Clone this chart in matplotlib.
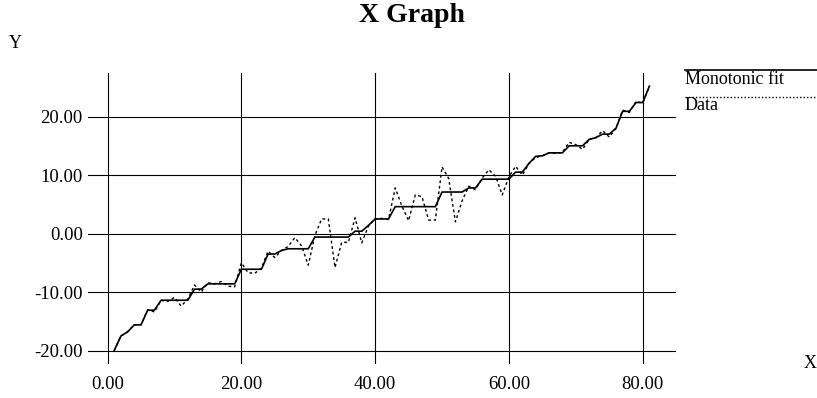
import matplotlib
matplotlib.use('Agg')
import numpy as np
from matplotlib import pyplot as plt
from matplotlib.lines import Line2D

# x positions 1..81
x_vals = list(range(1, 82))

data_vals = [-20.0, -17.5, -16.8, -15.6, -15.6, -13.0, -13.4, -11.4, -11.6, -10.9,
             -12.4, -11.2, -8.8, -10.0, -8.4, -8.6, -8.2, -9.0, -9.1, -5.0,
             -6.7, -6.8, -5.9, -3.0, -4.1, -2.9, -2.2, -0.7, -2.1, -5.4,
             -0.3, 2.5, 2.5, -5.8, -1.5, -1.5, 2.7, -1.6, 1.3, 2.5,
             2.6, 2.4, 7.8, 4.7, 2.2, 6.6, 6.3, 2.3, 2.3, 11.4,
             9.4, 2.0, 5.6, 8.1, 7.5, 9.5, 10.9, 9.8, 6.6, 9.7,
             11.5, 10.0, 12.0, 13.0, 13.3, 13.8, 13.7, 13.9, 15.6, 15.2,
             14.4, 16.1, 16.4, 17.6, 16.5, 18.0, 21.1, 20.7, 22.6, 22.3,
             25.2]

fit_vals = [-20.0, -17.5, -16.8, -15.6, -15.6, -13.1, -13.1, -11.4, -11.4, -11.4,
            -11.4, -11.4, -9.5, -9.5, -8.6, -8.6, -8.6, -8.6, -8.6, -6.1,
            -6.1, -6.1, -6.1, -3.5, -3.5, -2.9, -2.6, -2.6, -2.6, -2.6,
            -0.6, -0.6, -0.6, -0.6, -0.6, -0.6, 0.4, 0.4, 1.4, 2.5,
            2.5, 2.5, 4.6, 4.6, 4.6, 4.6, 4.6, 4.6, 4.6, 7.1,
            7.1, 7.1, 7.1, 7.8, 7.8, 9.3, 9.3, 9.3, 9.3, 9.3,
            10.5, 10.5, 12.0, 13.2, 13.3, 13.8, 13.8, 13.8, 15.0, 15.0,
            15.0, 16.1, 16.4, 17.0, 17.0, 18.0, 20.9, 20.9, 22.4, 22.4,
            25.2]

x_ticks = [0, 20, 40, 60, 80]
y_ticks = [-20, -10, 0, 10, 20]

W, H = 817, 398
plt.rcParams['font.family'] = ['Liberation Serif', 'DejaVu Serif']

fig = plt.figure(figsize=(W / 100, H / 100), dpi=100)

# axes box in pixels: left 87.5, right 675.5, top 72.7, bottom 364
left, right, top, bottom = 87.5, 675.5, 72.7, 364.0
ax = fig.add_axes([left / W, 1 - bottom / H, (right - left) / W, (bottom - top) / H])
ax.set_xlim(-3.0, 84.9)
ax.set_ylim(-22.3, 27.5)

for s in ax.spines.values():
    s.set_visible(False)

ax.set_xticks(x_ticks)
ax.set_yticks(y_ticks)
ax.set_xticklabels(['%.2f' % v for v in x_ticks])
ax.set_yticklabels(['%.2f' % v for v in y_ticks])
ax.tick_params(length=0, labelsize=13.5)
ax.tick_params(axis='x', pad=8.5)
ax.tick_params(axis='y', pad=3.5)
ax.grid(True, color='black', linewidth=0.8)
ax.set_axisbelow(True)

ax.plot(x_vals, data_vals, color='black', linewidth=1.0, linestyle=(0, (2, 2)))
ax.plot(x_vals, fit_vals, color='black', linewidth=1.2)

# title and axis names
fig.text(412 / W, 1 - 16 / H, 'X Graph', ha='center', va='center',
         fontsize=20, fontweight='bold')
fig.text(15 / W, 1 - 44 / H, 'Y', ha='center', va='center', fontsize=13)
fig.text(810 / W, 1 - 364 / H, 'X', ha='center', va='center', fontsize=13)

# legend at the right side
fig.add_artist(Line2D([685 / W, 1.0], [1 - 70 / H, 1 - 70 / H],
                      color='black', linewidth=1.2))
fig.text(685 / W, 1 - 79 / H, 'Monotonic fit', ha='left', va='center', fontsize=13)
fig.add_artist(Line2D([685 / W, 1.0], [1 - 96.5 / H, 1 - 96.5 / H],
                      color='black', linewidth=1.0, linestyle=(0, (1, 1.5))))
fig.text(685 / W, 1 - 106 / H, 'Data', ha='left', va='center', fontsize=13)

plt.savefig('out.png', dpi=100)
